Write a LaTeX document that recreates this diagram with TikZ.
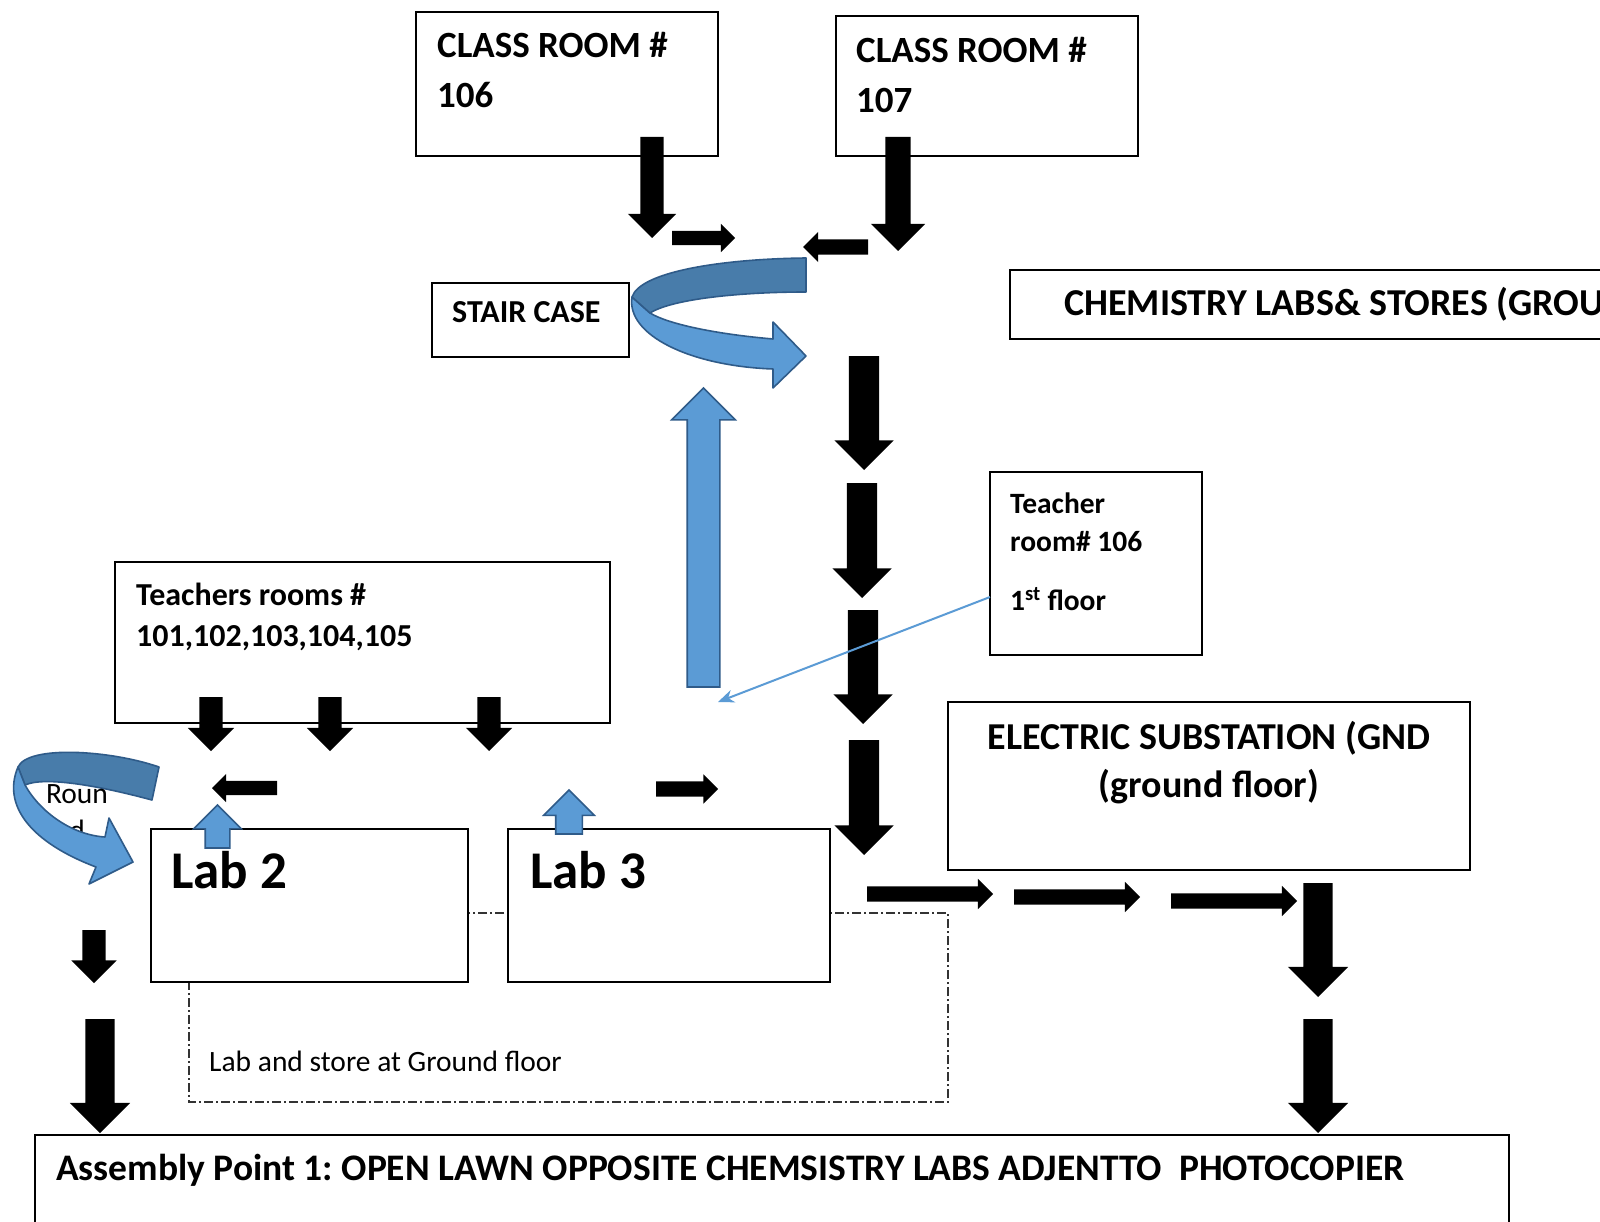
\documentclass[tikz,border=0pt]{standalone}
\usepackage{fontspec}
\setmainfont{Carlito}
\usetikzlibrary{shapes.arrows,arrows.meta,calc}
\definecolor{ablue}{HTML}{5B9BD5}
\definecolor{dblue}{HTML}{487CAA}
\definecolor{eblue}{HTML}{2F5B89}
\tikzset{
  box/.style n args={2}{draw=black, line width=1.6pt, fill=white, rectangle,
     inner sep=0pt, outer sep=0pt, minimum width=#1, minimum height=#2, anchor=north west},
  barrow/.style n args={3}{single arrow, inner xsep=0pt, inner ysep=#2, outer sep=0pt,
     minimum height=#1, single arrow head extend=#3,
     fill=black, draw=none, anchor=tail},
  bluearrow/.style n args={3}{single arrow, inner xsep=0pt, inner ysep=#2, outer sep=0pt,
     minimum height=#1, single arrow head extend=#3,
     fill=ablue, draw=eblue, line width=1.6pt, anchor=tail},
  lbl/.style={inner sep=0pt, anchor=base west},
  fA/.style={font=\fontsize{37}{44}\selectfont\bfseries},
  fB/.style={font=\fontsize{32}{38}\selectfont\bfseries},
  fC/.style={font=\fontsize{29.5}{35}\selectfont\bfseries},
  fE/.style={font=\fontsize{38}{45}\selectfont\bfseries},
  fL/.style={font=\fontsize{53}{62}\selectfont\bfseries},
  fR/.style={font=\fontsize{29.5}{35}\selectfont},
  band/.style={draw=eblue, line width=1.6pt, line join=round},
  dashdot/.style={draw=black!80, line width=1.2pt, dash pattern=on 9pt off 3pt on 2pt off 3pt}
}
\frenchspacing
\begin{document}
\begin{tikzpicture}[x=1pt,y=-1pt]
\useasboundingbox (0,0) rectangle (1600,1222);
\clip (0,0) rectangle (1600,1222);
\fill[white] (0,0) rectangle (1600,1222);

% boxes
\draw[dashdot] (189,913) rectangle (948,1102);
\node[box={302}{144}] (cr106) at (416,12) {};
\node[box={302}{140}] (cr107) at (836,16) {};
\node[box={197}{74}] (stair) at (432,283) {};
\node[box={640}{69}] (chem) at (1010,270) {};
\node[box={212}{183}] (tr) at (990,472) {};
\node[box={495}{161}] (trs) at (115,562) {};
\node[box={522}{168}] (elec) at (948,702) {};
\node[box={317}{153}] (lab2) at (151,829) {};
\node[box={322}{153}] (lab3) at (508,829) {};
\node[box={1474}{130}] (asm) at (35,1135) {};

% texts
\node[lbl,fA] (t106a) at (437,58) {CLASS ROOM \#};
\node[lbl,fA] (t106b) at (437,108) {106};
\node[lbl,fA] (t107a) at (856,63) {CLASS ROOM \#};
\node[lbl,fA] (t107b) at (856,113) {107};
\node[lbl,fB] (tstair) at (452,323) {STAIR CASE};
\node[lbl,fE] (tchem) at (1064,316) {CHEMISTRY LABS\& STORES (GROU};
\node[lbl,fC] (ttr1) at (1010,513) {Teacher};
\node[lbl,fC] (ttr2) at (1010,551) {room\# 106};
\node[lbl,fC] (ttr3) at (1010,610) {1\textsuperscript{st} floor};
\node[lbl,fB] (ttrs1) at (136,605) {Teachers rooms \#};
\node[lbl,fB] (ttrs2) at (136,646) {101,102,103,104,105};
\node[inner sep=0pt,anchor=base,fE] (tel1) at (1209,749) {ELECTRIC SUBSTATION (GND};
\node[inner sep=0pt,anchor=base,fE] (tel2) at (1209,797) {(ground floor)};
\node[lbl,fL] (tlab2) at (171,888) {Lab 2};
\node[lbl,fL] (tlab3) at (530,888) {Lab 3};
\node[lbl,fR] (tground) at (209,1071) {Lab and store at Ground floor};
\node[lbl,font=\fontsize{37.5}{44}\selectfont\bfseries] (tasm) at (56,1180) {Assembly Point 1: OPEN LAWN OPPOSITE CHEMSISTRY LABS ADJENTTO\ \ PHOTOCOPIER};

% stair case curved arrow
\path[band, fill=ablue] (632,297) .. controls (626,335) and (690,366) .. (773,369)
  -- (773,388) -- (806,356) -- (773,322) -- (773,339)
  .. controls (715,334) and (668,324) .. (650,313) -- cycle;
\path[band, fill=dblue] (806,258) -- (806,292) .. controls (740,292) and (672,299) .. (650,313)
  -- (632,297) .. controls (640,272) and (720,259) .. (806,258) -- cycle;

% round curved arrow
\path[band, fill=dblue] (159,767) -- (152,800) .. controls (100,786) and (45,776) .. (25,785)
  -- (18,767) .. controls (28,745) and (110,750) .. (159,767) -- cycle;
\node[inner sep=0pt,anchor=base,fR] (tround1) at (77,803) {Roun};
\node[inner sep=0pt,anchor=base,fR] (tround2) at (77,840) {d};
\path[band, fill=ablue] (18,767) .. controls (2,805) and (30,842) .. (96,867)
  -- (89,884) -- (133,862) -- (109,818) -- (105,837)
  .. controls (72,835) and (40,812) .. (25,785) -- cycle;

% black block arrows
\node[barrow={101}{11.5}{12.5},rotate=-90] (a106) at (652,137) {};
\node[barrow={114}{12.5}{14.5},rotate=-90] (a107) at (898,137) {};
\node[barrow={63}{7}{7},rotate=0] (h106) at (672,238) {};
\node[barrow={65}{7.5}{7.5},rotate=180] (h107) at (868,247) {};
\node[barrow={114}{15}{14.5},rotate=-90] (c1) at (864,356) {};
\node[barrow={115}{15}{14.5},rotate=-90] (c2) at (862,483) {};
\node[barrow={114}{15}{14.5},rotate=-90] (c3) at (863,610) {};
\node[barrow={115}{15}{14.5},rotate=-90] (c4) at (864,740) {};
\node[barrow={54}{11.5}{11.5},rotate=-90] (t1) at (211,697) {};
\node[barrow={54}{11.5}{11.5},rotate=-90] (t2) at (330,697) {};
\node[barrow={54}{11.5}{11.5},rotate=-90] (t3) at (489,697) {};
\node[barrow={65}{7}{7},rotate=180] (hl) at (277,788) {};
\node[barrow={62}{7.5}{7},rotate=0] (hr) at (656,789) {};
\node[barrow={53}{11.5}{11},rotate=-90] (l1) at (94,930) {};
\node[barrow={114}{14.5}{15.5},rotate=-90] (l2) at (100,1019) {};
\node[barrow={126}{7.5}{7.5},rotate=0] (hb1) at (867,894) {};
\node[barrow={126}{7.5}{7.5},rotate=0] (hb2) at (1014,897) {};
\node[barrow={126}{7.5}{7.5},rotate=0] (hb3) at (1171,901) {};
\node[barrow={114}{14.5}{15.5},rotate=-90] (r1) at (1318,883) {};
\node[barrow={114}{14.5}{15.5},rotate=-90] (r2) at (1318,1019) {};

% blue block arrows
\node[bluearrow={299}{15.5}{15.5},rotate=90] (bu1) at (703.5,687) {};
\node[bluearrow={43}{11.5}{11.5},rotate=90] (bu2) at (217.5,848) {};
\node[bluearrow={44}{12.5}{12},rotate=90] (bu3) at (569,834) {};

% thin blue link
\coordinate (lnend) at (718,702);
\draw[ablue, line width=2pt, -{Stealth[length=16pt,width=13pt]}] ([yshift=-33.5pt]tr.west) -- (lnend);
\end{tikzpicture}
\end{document}
